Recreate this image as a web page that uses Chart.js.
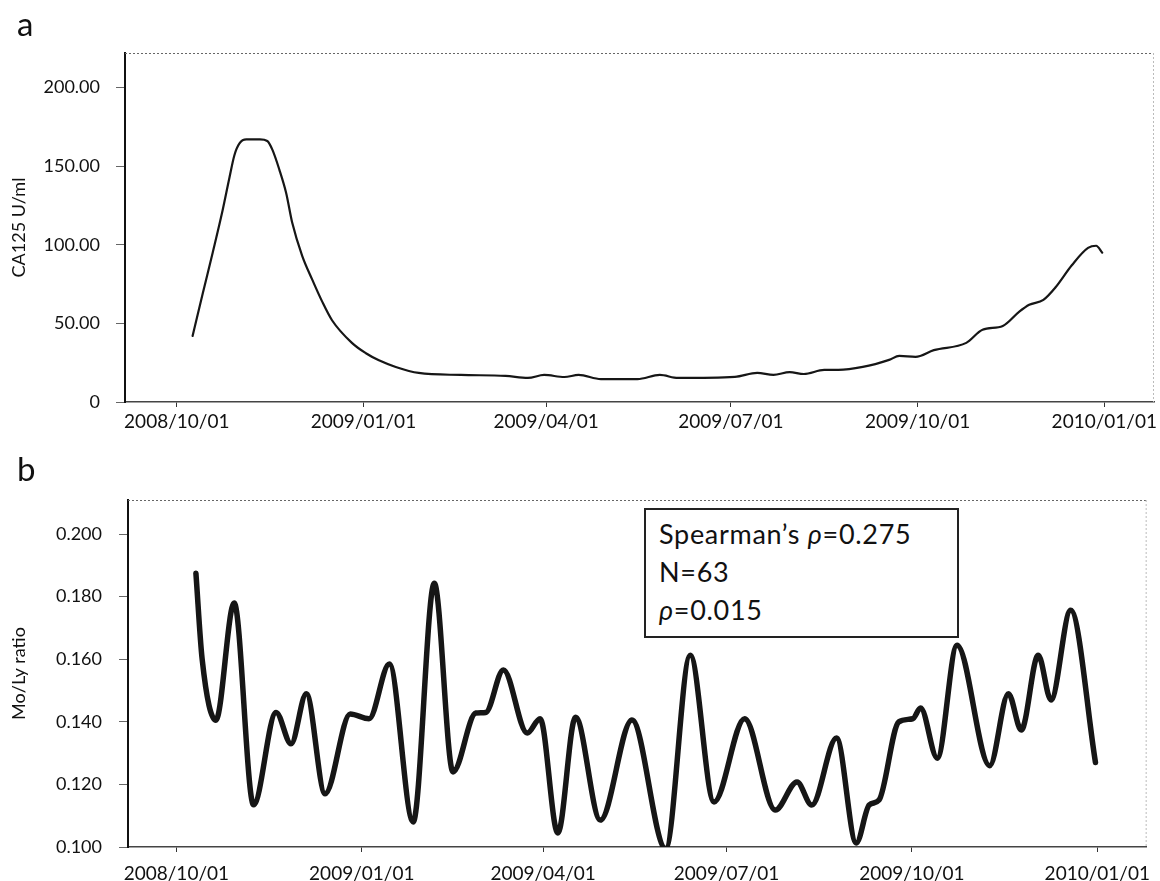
<!DOCTYPE html>
<html>
<head>
<meta charset="utf-8">
<script src="https://cdn.jsdelivr.net/npm/chart.js@4/dist/chart.umd.min.js"></script>
<style>
  body { margin:0; background:#fff; font-family: Lato, "Open Sans", sans-serif; }
  #wrap { position:relative; width:1160px; height:881px; overflow:hidden; }
  canvas { position:absolute; left:0; }
  .panel { position:absolute; font-size:33px; line-height:32px; color:#111; }
  #stats {
    position:absolute; left:644px; top:508px; width:315px; height:130px;
    box-sizing:border-box; border:2px solid #222; background:#fff;
    padding:5px 0 0 13px; font-size:27px; letter-spacing:0.7px; line-height:38px; color:#111;
  }
</style>
</head>
<body>
<div id="wrap">
  <canvas id="chartA" width="1160" height="440" style="top:0"></canvas>
  <canvas id="chartB" width="1160" height="441" style="top:440px"></canvas>
  <div class="panel" style="left:17px;top:7px">a</div>
  <div class="panel" style="left:17px;top:452px">b</div>
  <div id="stats">
    <div>Spearman’s <i>ρ</i>=0.275</div>
    <div>N=63</div>
    <div><i>ρ</i>=0.015</div>
  </div>
</div>
<script>
// x axis: days since 2008/10/01, labelled at these dates
const xTickLabels = ['2008/10/01','2009/01/01','2009/04/01','2009/07/01','2009/10/01','2010/01/01'];

// panel a: CA125 U/ml
const caDay   = [7.8, 12.8, 17.7, 22.6, 26, 28.4, 30.9, 34.3, 41, 44.6, 47.1, 50.5, 53.9, 56.9, 61.8, 66.7, 71.6, 76.5, 86.3, 93.2, 99.6, 107.9, 119.2, 140, 162, 173, 181, 191, 198, 209, 227, 238, 247, 275, 286, 294, 302, 309, 319, 326, 338, 351, 356, 364, 373, 389, 397, 407, 415, 420, 427, 433, 441, 449, 453, 456];
const caValue = [42, 69, 95, 122, 143, 157, 164.5, 167, 167, 166, 160.5, 148, 133, 114, 93, 78, 64, 52, 37.6, 31, 26.5, 22.3, 18.5, 17.2, 16.6, 15.3, 17.2, 15.9, 17.2, 14.6, 14.6, 17.2, 15.3, 16, 18.5, 17.2, 19, 17.8, 20.4, 20.4, 22.3, 26.8, 29.3, 28.7, 33, 37.6, 45.9, 48.4, 57.3, 61.8, 65, 73, 87, 98, 99.4, 95];
const caTicks = [0, 50, 100, 150, 200];

// panel b: Mo/Ly ratio
const ratioDay   = [9.7, 12.8, 19.6, 28.7, 38.3, 49.5, 56.9, 64.5, 73.8, 86.3, 95.6, 105.7, 117.5, 128, 137.3, 148.6, 153.5, 162.3, 174.1, 180.5, 189.3, 198.1, 210.4, 226.1, 242.8, 255, 266.8, 282, 297.2, 308, 315.3, 327.6, 337.4, 343.8, 348.7, 358.5, 365.4, 369.3, 377.6, 387.4, 403.6, 412.9, 419.3, 427.7, 434, 443.8, 456.1];
const ratioValue = [0.1875, 0.160, 0.1405, 0.178, 0.1135, 0.143, 0.133, 0.149, 0.117, 0.1425, 0.141, 0.1585, 0.108, 0.1843, 0.124, 0.1428, 0.143, 0.1566, 0.1364, 0.141, 0.1045, 0.1415, 0.1086, 0.1406, 0.0995, 0.1613, 0.1144, 0.141, 0.1118, 0.1208, 0.1134, 0.1348, 0.1013, 0.1134, 0.115, 0.140, 0.141, 0.1444, 0.1284, 0.1645, 0.126, 0.149, 0.1374, 0.1613, 0.147, 0.1757, 0.127];
const ratioTicks = [0.100, 0.120, 0.140, 0.160, 0.180, 0.200];

function dayOf(s){
  const [y,m,d] = s.split('/').map(Number);
  return (Date.UTC(y, m-1, d) - Date.UTC(2008, 9, 1)) / 86400000;
}
const xTickDays = xTickLabels.map(dayOf);
const FONT = 'Lato';

// dashed top/right frame of the plot area
const frame = {
  id: 'frame',
  afterDraw(c){
    const {ctx, chartArea:{left, top, right, bottom}} = c;
    ctx.save();
    ctx.lineWidth = 1;
    ctx.setLineDash([2,2]);
    ctx.strokeStyle = '#666';
    ctx.beginPath(); ctx.moveTo(left, top+0.5); ctx.lineTo(right, top+0.5); ctx.stroke();
    ctx.strokeStyle = '#bbb';
    ctx.beginPath(); ctx.moveTo(right-0.5, top); ctx.lineTo(right-0.5, bottom); ctx.stroke();
    ctx.restore();
  }
};

function xAxis(min, max, height, pad){
  return {
    type: 'linear', min, max,
    afterBuildTicks: ax => { ax.ticks = xTickDays.map(v => ({value: v})); },
    afterFit: ax => { ax.height = height; },
    ticks: { callback: (v, i) => xTickLabels[i], autoSkip:false, maxRotation:0, padding:pad,
             color:'#111', font:{family:FONT, size:19} },
    grid: { drawOnChartArea:false, tickLength:5, color:'#333' },
    border: { color:'#444', width:1.5, dash:[3,1] }
  };
}

function yAxis(min, max, ticks, fmt, title, width, pad){
  return {
    type: 'linear', min, max,
    afterBuildTicks: ax => { ax.ticks = ticks.map(v => ({value: v})); },
    afterFit: ax => { ax.width = width; },
    ticks: { callback: fmt, padding:pad, color:'#111', font:{family:FONT, size:18} },
    grid: { drawOnChartArea:false, tickLength:9, color:'#666' },
    border: { color:'#111', width:2 },
    title: { display:true, text:title, color:'#111', font:{family:FONT, size:18}, padding:{top:8, bottom:0} }
  };
}

function lineChart(id, days, values, lw, x, y, pad){
  return new Chart(document.getElementById(id), {
    type: 'line',
    data: { datasets: [{
      data: days.map((d, i) => ({x: d, y: values[i]})),
      borderColor: '#161616', borderWidth: lw,
      borderCapStyle: 'round', borderJoinStyle: 'round',
      cubicInterpolationMode: 'monotone', pointRadius: 0, fill: false
    }]},
    options: {
      responsive: false, animation: false,
      layout: { padding: pad },
      plugins: { legend:{display:false}, tooltip:{enabled:false} },
      scales: { x, y }
    },
    plugins: [frame]
  });
}

lineChart('chartA', caDay, caValue, 2.2,
  xAxis(-25.5, 481.5, 38, 3),
  yAxis(0, 222, caTicks, v => v === 0 ? '0' : v.toFixed(2), 'CA125 U/ml', 125, 16),
  {top:53, right:1, left:0, bottom:0});

lineChart('chartB', ratioDay, ratioValue, 5.5,
  xAxis(-24, 481.5, 34, 10),
  yAxis(0.1, 0.2109, ratioTicks, v => v.toFixed(3), 'Mo/Ly ratio', 128, 17),
  {top:60, right:1, left:0, bottom:0});
</script>
</body>
</html>
